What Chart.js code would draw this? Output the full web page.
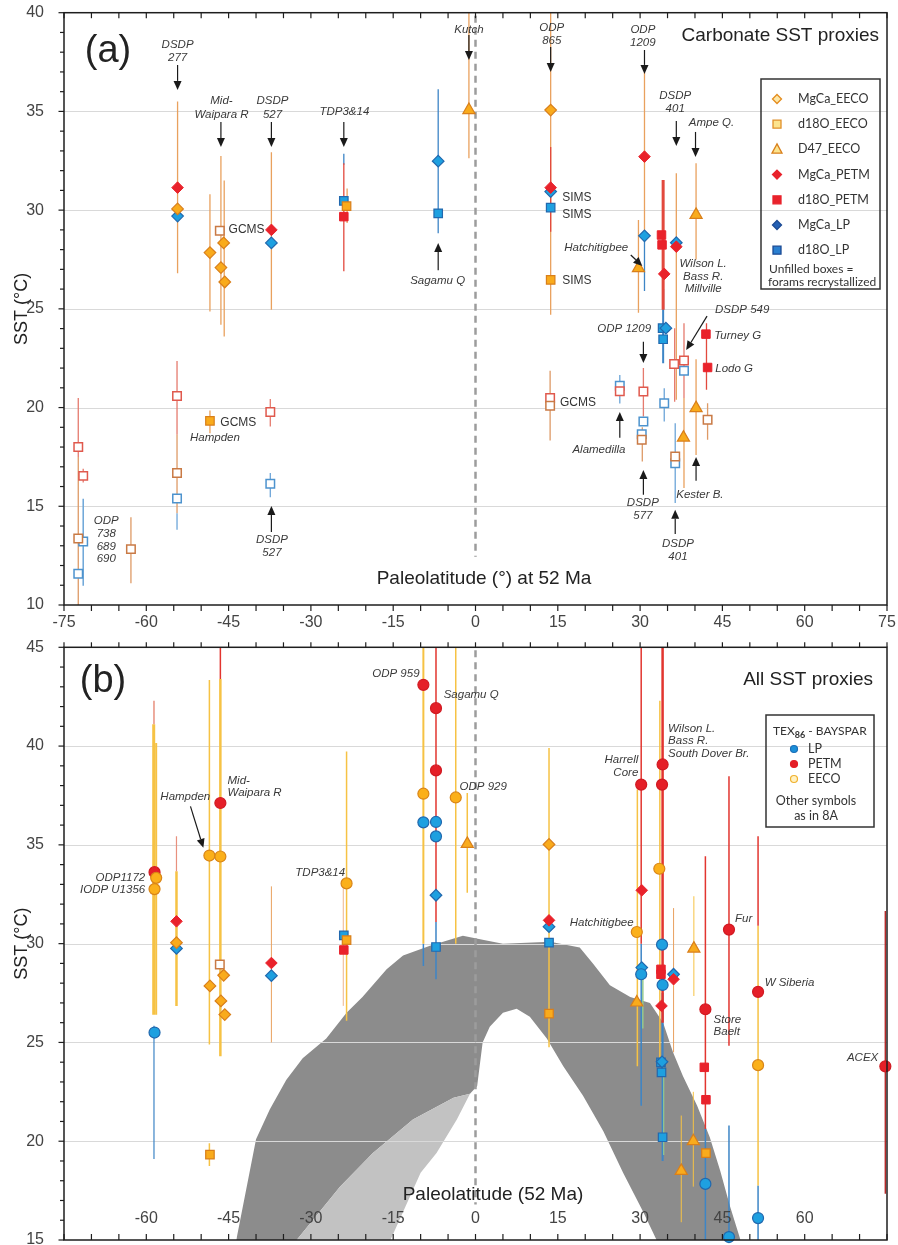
<!DOCTYPE html>
<html>
<head>
<meta charset="utf-8">
<script src="https://cdn.jsdelivr.net/npm/chart.js@4.4.1/dist/chart.umd.min.js"></script>
<style>
  html, body { margin: 0; padding: 0; background: #fff; }
  #wrap { position: relative; width: 898px; height: 1245px; overflow: hidden; }
  #ca { position: absolute; left: 0; top: -9px; }
  #cb { position: absolute; left: 0; top: 625px; }
</style>
</head>
<body>
<div id="wrap">
  <canvas id="ca" width="898" height="650"></canvas>
  <canvas id="cb" width="898" height="650"></canvas>
</div>
<script>
// ---------- axes ----------
const latTicks = [-75, -60, -45, -30, -15, 0, 15, 30, 45, 60, 75];
const latLabelsB = [-60, -45, -30, -15, 0, 15, 30, 45, 60];
const sstTicksA = [10, 15, 20, 25, 30, 35, 40];
const sstTicksB = [15, 20, 25, 30, 35, 40, 45];

// ---------- panel (a): carbonate SST proxies, [paleolatitude, SST] ----------
const mgcaEecoA = [[-54.3, 30.06], [-48.4, 27.85], [-45.9, 28.34], [-46.4, 27.09], [-45.7, 26.36], [13.7, 35.07]];
const d18oEecoA = [[-23.5, 30.2], [13.7, 26.47], [-48.4, 19.33]];
const d47EecoA = [[-1.2, 35.07], [29.7, 27.06], [40.2, 29.76], [37.9, 18.48], [40.2, 19.97]];
const mgcaPetmA = [[-54.3, 31.14], [-37.2, 29.0], [13.7, 31.14], [30.8, 32.71], [34.4, 26.77], [36.6, 28.15]];
const d18oPetmA = [[-24.0, 29.67], [33.9, 28.74], [34.0, 28.24], [42.0, 23.72], [42.3, 22.03]];
const mgcaLpA = [[-54.3, 29.7], [-37.2, 28.34], [-6.8, 32.48], [13.7, 30.94], [30.8, 28.7], [34.7, 24.02], [36.6, 28.35]];
const d18oLpA = [[-24.0, 30.47], [-6.8, 29.84], [13.7, 30.13], [34.1, 24.02], [34.2, 23.46]];
// unfilled boxes = forams recrystallized
const d18oEecoOpenA = [[-46.6, 28.96], [13.6, 20.09], [30.3, 18.37], [36.4, 17.52], [42.3, 19.38], [-72.4, 13.37], [-62.8, 12.83], [-54.4, 16.68]];
const d18oPetmOpenA = [[13.6, 20.48], [30.6, 20.81], [26.3, 20.83], [36.2, 22.21], [38.0, 22.38], [-37.4, 19.77], [-72.4, 18.0], [-71.5, 16.54], [-54.4, 20.58]];
const d18oLpOpenA = [[-37.4, 16.14], [30.6, 19.29], [30.3, 18.65], [26.3, 21.1], [34.4, 20.22], [36.4, 17.18], [38.0, 21.86], [-72.4, 11.58], [-71.5, 13.22], [-54.4, 15.39]];

// error bars: [paleolatitude, low, high, colour, width]
const barsA = [
  [-72.4, 17.5, 20.48, 'oRed', 1.3], [-72.4, 9.5, 17.5, 'oOrg', 1.3], [-71.5, 16.2, 16.9, 'oRed', 1.3],
  [-71.5, 10.97, 15.38, 'oBlue', 1.5], [-62.8, 11.1, 14.45, 'oOrg', 1.3],
  [-54.4, 18.62, 22.36, 'oRed', 1.3], [-54.4, 14.65, 18.62, 'oOrg', 1.3], [-54.4, 13.81, 14.65, 'oBlue', 1.3],
  [-54.3, 26.8, 35.5, 'eeco', 1.3], [-48.4, 24.86, 30.8, 'eeco', 1.3], [-48.4, 18.7, 19.85, 'eeco', 1.3],
  [-46.4, 24.2, 32.74, 'eeco', 1.3], [-45.8, 23.6, 31.5, 'eeco', 1.3], [-37.2, 24.95, 32.93, 'eeco', 1.3],
  [-37.4, 19.04, 20.43, 'oRed', 1.3], [-37.4, 15.46, 16.68, 'oBlue', 1.3],
  [-24.0, 32.3, 32.85, 'lp', 1.3], [-24.0, 26.9, 32.37, 'petm', 1.3], [-23.4, 29.35, 31.1, 'eeco', 1.3],
  [-6.8, 28.83, 36.12, 'lp', 1.3], [-1.2, 32.63, 40.5, 'eeco', 1.3],
  [13.7, 24.7, 40.5, 'eeco', 1.3], [13.7, 28.9, 33.2, 'petm', 1.3], [13.6, 18.33, 21.87, 'oOrg', 1.3],
  [26.3, 20.2, 21.65, 'oBlue', 1.3], [29.7, 24.8, 29.5, 'eeco', 1.3],
  [30.8, 28.7, 37.0, 'eeco', 1.3], [30.8, 25.9, 28.7, 'lp', 1.3],
  [30.6, 19.55, 22.0, 'oRed', 1.3], [30.4, 17.27, 19.0, 'oOrg', 1.3],
  [34.2, 22.25, 26.0, 'lp', 2], [34.2, 24.95, 31.53, 'petm', 3], [34.4, 19.29, 20.98, 'oBlue', 1.3],
  [36.6, 20.4, 31.87, 'eeco', 1.3], [36.3, 20.3, 24.02, 'oRed', 1.3], [36.4, 15.16, 19.21, 'oBlue', 1.3],
  [38.0, 20.48, 24.27, 'oRed', 1.3], [38.0, 15.92, 20.48, 'eeco', 1.3],
  [40.2, 27.5, 32.37, 'eeco', 1.3], [40.2, 17.6, 22.45, 'eeco', 1.3],
  [42.1, 20.9, 24.27, 'petm', 1.3], [42.3, 18.37, 20.22, 'oOrg', 1.3]
];

// ---------- panel (b): all SST proxies ----------
const texLpB = [[-58.5, 25.5], [-9.5, 36.14], [-7.2, 36.16], [-7.2, 35.43], [34.0, 29.95], [30.2, 28.45], [34.1, 27.91], [41.9, 17.84], [46.2, 15.15], [51.5, 16.11]];
const texPetmB = [[-58.5, 33.62], [-46.5, 37.12], [-9.5, 43.1], [-7.2, 41.92], [-7.2, 38.77], [30.2, 38.05], [34.1, 39.07], [34.0, 38.05], [46.2, 30.71], [51.5, 27.56], [41.9, 26.68], [74.7, 23.79]];
const texEecoB = [[-58.2, 33.33], [-58.5, 32.76], [-48.5, 34.46], [-46.5, 34.41], [-23.5, 33.05], [-9.5, 37.59], [-3.6, 37.4], [33.5, 33.79], [29.4, 30.59], [51.5, 23.85]];
const mgcaEecoB = [[-54.5, 30.05], [-48.4, 27.86], [-45.9, 28.4], [-46.4, 27.1], [-45.7, 26.41], [13.4, 35.02]];
const d18oEecoB = [[-23.5, 30.18], [13.4, 26.46], [-48.4, 19.32], [42.0, 19.4]];
const d18oEecoOpenB = [[-46.6, 28.94]];
const d47EecoB = [[-1.5, 35.05], [29.4, 27.02], [39.8, 29.75], [39.7, 20.0], [37.5, 18.5]];
const mgcaPetmB = [[-54.5, 31.13], [-37.2, 29.02], [13.4, 31.18], [30.3, 32.7], [33.9, 26.85], [36.1, 28.2]];
const d18oPetmB = [[-24.0, 29.68], [33.8, 28.7], [33.8, 28.45], [41.7, 23.74], [42.0, 22.1]];
const mgcaLpB = [[-54.5, 29.76], [-37.2, 28.38], [-7.2, 32.45], [13.4, 30.86], [30.3, 28.79], [36.1, 28.45], [34.0, 24.02]];
const d18oLpB = [[-24.0, 30.42], [-7.2, 29.83], [13.4, 30.05], [33.8, 23.99], [33.9, 23.48], [34.1, 20.2]];

// model SST envelope (grey band): upper edge, solid lower edge, and outer edge of the sparse (speckled) zone
const bandTopB = [[-43.6, 15], [-40, 20.1], [-37.5, 21.6], [-34.5, 23.1], [-31.5, 24.2], [-27.2, 25.2], [-23.5, 26.5],
  [-20.6, 27.3], [-16.2, 28.7], [-13.2, 29.4], [-8.3, 29.9], [-2.3, 30.4], [1.3, 30.2], [5, 30.0], [13.6, 30.1],
  [19, 29.8], [21.4, 29.0], [24.5, 27.9], [28.2, 27.3], [31.8, 27.0], [34.2, 26.0], [36, 24.5], [37.8, 23.3],
  [40.4, 21.8], [42.7, 20.2], [44.6, 18.5], [46.4, 16.7], [48.3, 15]];
const bandBottomB = [[-43.6, 15], [-32.6, 15], [-24.7, 17.7], [-18.7, 19.4], [-11.4, 21.1], [-4, 22.2], [-1, 22.4],
  [0.3, 22.8], [1.3, 25.0], [2.6, 25.8], [5, 26.5], [7.5, 26.7], [9.9, 26.3], [13, 25.2], [16, 23.8], [19.6, 22.3],
  [23.3, 20.5], [26.9, 18.4], [30.6, 16.4], [33, 15], [48.3, 15]];
const bandSparseB = [[-32.6, 15], [-15.5, 15], [-10, 18.4], [-7.1, 19.4], [-3.4, 21.1], [-1, 22.4]];

const barsB = [
  [-58.6, 19.1, 25.84, 'lp', 1.2], [-58.65, 26.4, 41.1, 'tEeco', 3], [-58.6, 41.1, 42.3, 'fRed', 1.5],
  [-58.2, 26.4, 40.15, 'tEeco', 2], [-54.5, 26.85, 33.67, 'tEeco', 2.5], [-54.5, 33.67, 35.43, 'fRed', 1.2],
  [-48.5, 24.9, 43.35, 'tEeco', 1.5], [-48.5, 18.75, 19.9, 'tEeco', 1.5],
  [-46.5, 24.3, 43.4, 'tEeco', 2.5], [-46.5, 43.4, 45.5, 'tPetm', 1.5],
  [-37.2, 25.0, 32.9, 'eeco', 1], [-24.1, 26.85, 32.9, 'faint', 1], [-23.5, 26.1, 39.73, 'tEeco', 1.5],
  [-9.5, 28.87, 30.0, 'lp', 1.5], [-9.5, 30.0, 45.5, 'tEeco', 2],
  [-7.2, 28.2, 31.1, 'lp', 1.5], [-7.2, 31.1, 45.5, 'tPetm', 1.5],
  [-3.6, 30.0, 45.5, 'tEeco', 1.5], [-1.5, 32.58, 37.63, 'tEeco', 1.5], [13.4, 24.76, 39.9, 'tEeco', 1.5],
  [29.5, 23.8, 37.8, 'tEeco', 1.5], [30.2, 21.8, 30.0, 'lp', 1.5], [30.2, 30.0, 45.5, 'tPetm', 1.5],
  [30.5, 25.7, 28.2, 'green', 1.5],
  [33.6, 24.0, 42.3, 'tEeco', 1.5], [34.1, 19.0, 27.5, 'lp', 2], [34.1, 26.0, 45.5, 'tPetm', 2.5],
  [34.3, 19.3, 24.0, 'green', 1.2],
  [36.1, 24.5, 31.8, 'eeco', 1], [37.5, 15.9, 21.3, 'tEeco', 1], [39.7, 17.7, 22.5, 'tEeco', 1],
  [39.8, 27.35, 32.4, 'tEeco', 1],
  [41.9, 14.5, 20.62, 'lp', 1.5], [41.9, 20.62, 34.43, 'tPetm', 1.5],
  [46.2, 14.5, 20.79, 'lp', 1.5], [46.2, 24.83, 38.47, 'tPetm', 1.5],
  [51.5, 14.5, 17.76, 'lp', 1.5], [51.5, 17.76, 30.9, 'tEeco', 1.5], [51.5, 30.9, 35.43, 'tPetm', 1.5],
  [74.7, 17.34, 31.65, 'dRed', 1.5]
];

// ---------- site labels [lat, SST, text, align, style] ----------
const labelsA = [
  [-54.3, 38.36, 'DSDP', 'c', 'i'], [-54.3, 37.71, '277', 'c', 'i'],
  [-46.3, 35.53, 'Mid-', 'c', 'i'], [-46.3, 34.82, 'Waipara R', 'c', 'i'],
  [-37.0, 35.53, 'DSDP', 'c', 'i'], [-37.0, 34.82, '527', 'c', 'i'],
  [-23.9, 34.97, 'TDP3&14', 'c', 'i'], [-6.9, 26.41, 'Sagamu Q', 'c', 'i'],
  [-1.2, 39.12, 'Kutch', 'c', 'i'],
  [13.9, 39.23, 'ODP', 'c', 'i'], [13.9, 38.57, '865', 'c', 'i'],
  [30.5, 39.12, 'ODP', 'c', 'i'], [30.5, 38.47, '1209', 'c', 'i'],
  [36.4, 35.78, 'DSDP', 'c', 'i'], [36.4, 35.12, '401', 'c', 'i'],
  [43.0, 34.42, 'Ampe Q.', 'c', 'i'],
  [15.8, 30.62, 'SIMS', 'l', 'n'], [15.8, 29.76, 'SIMS', 'l', 'n'], [15.8, 26.41, 'SIMS', 'l', 'n'],
  [-45.0, 29.0, 'GCMS', 'l', 'n'], [15.4, 20.24, 'GCMS', 'l', 'n'], [-46.5, 19.23, 'GCMS', 'l', 'n'],
  [-47.5, 18.47, 'Hampden', 'c', 'i'], [22.0, 28.09, 'Hatchitigbee', 'c', 'i'],
  [41.5, 27.27, 'Wilson L.', 'c', 'i'], [41.5, 26.61, 'Bass R.', 'c', 'i'], [41.5, 26.0, 'Millville', 'c', 'i'],
  [48.6, 24.95, 'DSDP 549', 'c', 'i'], [27.1, 23.98, 'ODP 1209', 'c', 'i'],
  [43.5, 23.63, 'Turney G', 'l', 'i'], [43.7, 21.98, 'Lodo G', 'l', 'i'],
  [22.5, 17.86, 'Alamedilla', 'c', 'i'],
  [30.5, 15.17, 'DSDP', 'c', 'i'], [30.5, 14.52, '577', 'c', 'i'],
  [40.9, 15.58, 'Kester B.', 'c', 'i'],
  [36.9, 13.1, 'DSDP', 'c', 'i'], [36.9, 12.43, '401', 'c', 'i'],
  [-67.3, 14.27, 'ODP', 'c', 'i'], [-67.3, 13.6, '738', 'c', 'i'], [-67.3, 12.95, '689', 'c', 'i'], [-67.3, 12.34, '690', 'c', 'i'],
  [-37.1, 13.3, 'DSDP', 'c', 'i'], [-37.1, 12.64, '527', 'c', 'i']
];
const arrowsA = [
  [-54.3, 37.35, -54.3, 36.09], [-46.4, 34.47, -46.4, 33.2], [-37.2, 34.47, -37.2, 33.2], [-24.0, 34.47, -24.0, 33.2],
  [-6.8, 26.96, -6.8, 28.33], [-1.2, 38.87, -1.2, 37.6], [13.7, 38.26, 13.7, 37.0], [30.8, 38.11, 30.8, 36.9],
  [36.6, 34.52, 36.6, 33.25], [40.1, 33.96, 40.1, 32.69], [28.3, 27.73, 30.4, 27.17], [42.2, 24.63, 38.4, 22.91],
  [30.6, 23.33, 30.6, 22.26], [26.3, 18.47, 26.3, 19.78], [30.6, 15.58, 30.6, 16.84], [40.2, 16.29, 40.2, 17.5],
  [36.4, 13.6, 36.4, 14.82], [-37.2, 13.7, -37.2, 15.02]
];
const labelsB = [
  [-10.2, 43.65, 'ODP 959', 'r', 'i'], [-5.8, 42.59, 'Sagamu Q', 'l', 'i'], [-2.9, 37.94, 'ODP 929', 'l', 'i'],
  [-45.2, 38.25, 'Mid-', 'l', 'i'], [-45.2, 37.64, 'Waipara R', 'l', 'i'], [-52.9, 37.44, 'Hampden', 'c', 'i'],
  [-60.2, 33.35, 'ODP1172', 'r', 'i'], [-60.2, 32.72, 'IODP U1356', 'r', 'i'], [-28.3, 33.6, 'TDP3&14', 'c', 'i'],
  [26.6, 39.31, 'Harrell', 'c', 'i'], [27.4, 38.65, 'Core', 'c', 'i'],
  [35.1, 40.87, 'Wilson L.', 'l', 'i'], [35.1, 40.25, 'Bass R.', 'l', 'i'], [35.1, 39.61, 'South Dover Br.', 'l', 'i'],
  [23.0, 31.08, 'Hatchitigbee', 'c', 'i'], [47.3, 31.28, 'Fur', 'l', 'i'], [52.7, 28.0, 'W Siberia', 'l', 'i'],
  [43.4, 26.13, 'Store', 'l', 'i'], [43.4, 25.52, 'Baelt', 'l', 'i'], [73.4, 24.21, 'ACEX', 'r', 'i']
];
const arrowsB = [[-51.95, 36.95, -49.6, 34.85]];

// ---------- styling ----------
const SANS = '"Liberation Sans", Arial, Helvetica, sans-serif';
const LEG = 'Lato, "Open Sans", sans-serif';
const C = {
  eFill: '#F9AB1C', eLine: '#D97F1A', pFill: '#E9222B', lFill: '#1EA0E0', lLine: '#2168AE',
  oRed: '#E0594D', oOrg: '#C97A45', oBlue: '#4D93CE'
};
const barColors = {
  eeco: '#E9A15E', petm: '#E2493E', lp: '#3D85C6', oRed: '#E57A6E', oBlue: '#6CA5D8', oOrg: '#DE9A66',
  tEeco: '#F6C244', tPetm: '#E2352F', dRed: '#B52A2A', fRed: '#E8907E', faint: '#EDB58C', green: '#94C98E'
};

function pts(arr) { return arr.map(p => ({ x: p[0], y: p[1] })); }
function marks(data, shape, r, fill, stroke, bw, order) {
  return {
    data: pts(data), pointStyle: shape, pointRadius: r, pointHoverRadius: r,
    pointBackgroundColor: fill, pointBorderColor: stroke, pointBorderWidth: bw,
    order: order, clip: false
  };
}
function bandLine(data, fill, color, order) {
  return { data: pts(data), showLine: true, pointRadius: 0, borderWidth: 0, borderColor: 'rgba(0,0,0,0)',
    backgroundColor: color, fill: fill, tension: 0, order: order, band: true };
}

function drawMark(ctx, shape, x, y, r, fill, stroke, lw) {
  ctx.save();
  ctx.beginPath();
  if (shape === 'diamond') {
    ctx.moveTo(x, y - r); ctx.lineTo(x + r, y); ctx.lineTo(x, y + r); ctx.lineTo(x - r, y); ctx.closePath();
  } else if (shape === 'square') {
    ctx.rect(x - r, y - r, 2 * r, 2 * r);
  } else if (shape === 'triangle') {
    ctx.moveTo(x, y - r * 1.1); ctx.lineTo(x + r, y + r * 0.75); ctx.lineTo(x - r, y + r * 0.75); ctx.closePath();
  } else {
    ctx.arc(x, y, r, 0, Math.PI * 2);
  }
  ctx.fillStyle = fill; ctx.fill();
  ctx.lineWidth = lw; ctx.strokeStyle = stroke; ctx.stroke();
  ctx.restore();
}

function seg(ctx, x1, y1, x2, y2) { ctx.beginPath(); ctx.moveTo(x1, y1); ctx.lineTo(x2, y2); ctx.stroke(); }

function drawLayer(chart, P) {
  const { ctx, chartArea: a, scales: { x, y } } = chart;
  ctx.save();
  ctx.beginPath(); ctx.rect(a.left, a.top, a.right - a.left, a.bottom - a.top); ctx.clip();
  ctx.strokeStyle = '#D9D9D9'; ctx.lineWidth = 1;
  P.grid.forEach(v => { const py = Math.round(y.getPixelForValue(v)) + 0.5; seg(ctx, a.left, py, a.right, py); });
  ctx.setLineDash([7, 5]); ctx.strokeStyle = '#9C9C9C'; ctx.lineWidth = 2.5;
  const zx = x.getPixelForValue(0);
  seg(ctx, zx, a.top + 3, zx, y.getPixelForValue(P.zeroEnd));
  ctx.setLineDash([]);
  P.bars.forEach(b => {
    ctx.strokeStyle = barColors[b[3]]; ctx.lineWidth = b[4];
    const bx = x.getPixelForValue(b[0]);
    seg(ctx, bx, y.getPixelForValue(b[1]), bx, y.getPixelForValue(b[2]));
  });
  ctx.restore();
}

function drawFrame(chart, P) {
  const { ctx, chartArea: a, scales: { x, y } } = chart;
  ctx.save();
  ctx.strokeStyle = '#1E1E1E'; ctx.lineWidth = 1.5;
  ctx.strokeRect(a.left, a.top, a.right - a.left, a.bottom - a.top);
  ctx.lineWidth = 1.2;
  for (let v = x.min; v <= x.max; v += 5) {
    const px = x.getPixelForValue(v);
    if (P.topIn) seg(ctx, px, a.top, px, a.top + 5.5); else seg(ctx, px, a.top, px, a.top - 5);
    if (P.bottomIn) seg(ctx, px, a.bottom, px, a.bottom - 6); else seg(ctx, px, a.bottom, px, a.bottom + 6);
  }
  for (let v = y.min; v <= y.max; v += 1) {
    const py = y.getPixelForValue(v);
    seg(ctx, a.left - (v % 5 === 0 ? 5.5 : 4), py, a.left, py);
  }
  ctx.restore();
}

function drawLabels(chart, labels, arrows) {
  const { ctx, scales: { x, y } } = chart;
  ctx.save();
  ctx.textBaseline = 'middle';
  labels.forEach(l => {
    ctx.font = l[4] === 'i' ? 'italic 11.5px ' + SANS : '12px ' + SANS;
    ctx.fillStyle = l[4] === 'i' ? '#3A3A3A' : '#333';
    ctx.textAlign = l[3] === 'l' ? 'left' : (l[3] === 'r' ? 'right' : 'center');
    ctx.fillText(l[2], x.getPixelForValue(l[0]), y.getPixelForValue(l[1]));
  });
  ctx.strokeStyle = '#1A1A1A'; ctx.fillStyle = '#1A1A1A'; ctx.lineWidth = 1.2;
  arrows.forEach(r => {
    const x1 = x.getPixelForValue(r[0]), y1 = y.getPixelForValue(r[1]);
    const x2 = x.getPixelForValue(r[2]), y2 = y.getPixelForValue(r[3]);
    const ang = Math.atan2(y2 - y1, x2 - x1);
    const hl = 9, hw = 4;
    const bx = x2 - Math.cos(ang) * hl, by = y2 - Math.sin(ang) * hl;
    seg(ctx, x1, y1, bx, by);
    ctx.beginPath();
    ctx.moveTo(x2, y2);
    ctx.lineTo(bx + Math.sin(ang) * hw, by - Math.cos(ang) * hw);
    ctx.lineTo(bx - Math.sin(ang) * hw, by + Math.cos(ang) * hw);
    ctx.closePath(); ctx.fill();
  });
  ctx.restore();
}

function text(ctx, s, x, y, font, align, color) {
  ctx.font = font; ctx.textAlign = align; ctx.textBaseline = 'middle'; ctx.fillStyle = color || '#222';
  ctx.fillText(s, x, y);
}

function panelPlugin(P) {
  return {
    id: 'panel' + P.name,
    beforeDatasetsDraw(chart) { chart.$layerDone = false; },
    beforeDatasetDraw(chart, args) {
      if (!chart.$layerDone && !chart.data.datasets[args.index].band) { drawLayer(chart, P); chart.$layerDone = true; }
    },
    afterDatasetsDraw(chart) { if (!chart.$layerDone) { drawLayer(chart, P); chart.$layerDone = true; } },
    afterDraw(chart) {
      drawFrame(chart, P);
      drawLabels(chart, P.labels, P.arrows);
      chart.ctx.save();
      chart.ctx.translate(0, -P.pageTop); // page coordinates for titles and legend
      P.extra(chart.ctx);
      chart.ctx.restore();
    }
  };
}

function baseOptions(P) {
  return {
    responsive: false, animation: false, devicePixelRatio: 1, events: [],
    layout: { padding: P.padding },
    plugins: { legend: { display: false }, tooltip: { enabled: false } },
    scales: {
      x: {
        type: 'linear', min: -75, max: 75, display: P.showX,
        grid: { display: false }, border: { display: false },
        afterBuildTicks: s => { s.ticks = latTicks.map(v => ({ value: v })); },
        ticks: { padding: 0, color: '#444', font: { family: SANS, size: 16 } },
        afterFit: s => { s.height = P.xHeight; }
      },
      y: {
        type: 'linear', min: P.ymin, max: P.ymax,
        grid: { display: false }, border: { display: false },
        afterBuildTicks: s => { s.ticks = P.yTicks.map(v => ({ value: v })); },
        ticks: { padding: 12, color: '#444', font: { family: SANS, size: 16 } },
        title: { display: true, text: 'SST (°C)', color: '#222', font: { family: SANS, size: 18 }, padding: { top: 11, bottom: 0 } },
        afterFit: s => { s.width = 64; }
      }
    }
  };
}

// ---------- panel (a) ----------
const PA = {
  name: 'A', pageTop: -9, padding: { top: 21.7, right: 11, bottom: 0, left: 0 }, showX: true, xHeight: 36,
  ymin: 10, ymax: 40, yTicks: sstTicksA, grid: [15, 20, 25, 30, 35], zeroEnd: 12.45,
  topIn: true, bottomIn: false, bars: barsA, labels: labelsA, arrows: arrowsA,
  extra(ctx) {
    text(ctx, '(a)', 108, 52, '38px ' + SANS, 'center', '#222');
    text(ctx, 'Carbonate SST proxies', 879, 36, '19px ' + SANS, 'right', '#222');
    text(ctx, 'Paleolatitude (°) at 52 Ma', 484, 579, '19px ' + SANS, 'center', '#222');
    ctx.strokeStyle = '#333'; ctx.lineWidth = 1.5; ctx.strokeRect(761, 79, 119, 210);
    const rows = [
      ['MgCa_EECO', 'diamond', 4.5, '#FDE7A6', '#E48C1E'],
      ['d18O_EECO', 'square', 4, '#FCE48E', '#E0902A'],
      ['D47_EECO', 'triangle', 5, '#FCE48E', '#D9801C'],
      ['MgCa_PETM', 'diamond', 4.5, C.pFill, C.pFill],
      ['d18O_PETM', 'square', 4, C.pFill, C.pFill],
      ['MgCa_LP', 'diamond', 4.5, '#2460B4', '#1B4A94'],
      ['d18O_LP', 'square', 4, '#2A7FD0', '#1B4A94']
    ];
    rows.forEach((r, i) => {
      const yy = 99 + i * 25.2;
      drawMark(ctx, r[1], 777, yy, r[2], r[3], r[4], 1.3);
      text(ctx, r[0], 798, yy, '12.5px ' + LEG, 'left', '#333');
    });
    text(ctx, 'Unfilled boxes =', 769, 269, '12px ' + LEG, 'left', '#333');
    text(ctx, 'forams recrystallized', 768, 282, '12px ' + LEG, 'left', '#333');
  }
};

const dsA = [
  marks(mgcaPetmA, 'rectRot', 5.8, C.pFill, C.pFill, 1, 1),
  marks(d18oPetmA, 'rect', 6, C.pFill, C.pFill, 1, 1),
  marks(mgcaEecoA, 'rectRot', 5.8, C.eFill, C.eLine, 1.2, 2),
  marks(d18oEecoA, 'rect', 6, C.eFill, C.eLine, 1.2, 2),
  marks(d47EecoA, 'triangle', 7, C.eFill, C.eLine, 1.2, 2),
  marks(mgcaLpA, 'rectRot', 5.8, C.lFill, C.lLine, 1.2, 3),
  marks(d18oLpA, 'rect', 6, C.lFill, C.lLine, 1.2, 3),
  marks(d18oEecoOpenA, 'rect', 6, '#fff', C.oOrg, 1.5, 4),
  marks(d18oPetmOpenA, 'rect', 6, '#fff', C.oRed, 1.5, 4),
  marks(d18oLpOpenA, 'rect', 6, '#fff', C.oBlue, 1.5, 4)
];

new Chart(document.getElementById('ca'), {
  type: 'scatter',
  data: { datasets: dsA },
  options: baseOptions(PA),
  plugins: [panelPlugin(PA)]
});

// ---------- panel (b) ----------
const PB = {
  name: 'B', pageTop: 625, padding: { top: 22.3, right: 11, bottom: 35, left: 0 }, showX: false, xHeight: 0,
  ymin: 15, ymax: 45, yTicks: sstTicksB, grid: [20, 25, 30, 35, 40], zeroEnd: 16.8,
  topIn: false, bottomIn: true, bars: barsB, labels: labelsB, arrows: arrowsB,
  extra(ctx) {
    text(ctx, '(b)', 103, 682, '38px ' + SANS, 'center', '#222');
    text(ctx, 'All SST proxies', 873, 680, '19px ' + SANS, 'right', '#222');
    text(ctx, 'Paleolatitude (52 Ma)', 493, 1195, '19px ' + SANS, 'center', '#222');
    ctx.strokeStyle = '#333'; ctx.lineWidth = 1.5; ctx.strokeRect(766, 715, 108, 112);
    text(ctx, 'TEX', 773, 731, '12px ' + LEG, 'left', '#333');
    let w = ctx.measureText('TEX').width;
    text(ctx, '86', 773 + w, 735, 'bold 9px ' + LEG, 'left', '#333');
    w += ctx.measureText('86').width;
    text(ctx, ' - BAYSPAR', 773 + w, 731, '12px ' + LEG, 'left', '#333');
    const rows = [['LP', '#1B8FD8', '#1B6FB8'], ['PETM', '#E41E26', '#E41E26'], ['EECO', '#FFF1C2', '#F0B12E']];
    rows.forEach((r, i) => {
      const yy = 749 + i * 15;
      drawMark(ctx, 'circle', 794, yy, 3.5, r[1], r[2], 1.2);
      text(ctx, r[0], 808, yy, '12.5px ' + LEG, 'left', '#333');
    });
    text(ctx, 'Other symbols', 816, 801, '12.5px ' + LEG, 'center', '#333');
    text(ctx, 'as in 8A', 816, 816, '12.5px ' + LEG, 'center', '#333');
  }
};

const dsB = [
  bandLine(bandTopB, '+1', '#8C8C8C', 100),
  bandLine(bandBottomB, false, 'rgba(0,0,0,0)', 101),
  bandLine(bandBottomB.slice(1, 7), '+1', '#C2C2C2', 98),
  bandLine(bandSparseB, false, 'rgba(0,0,0,0)', 99),
  marks(texEecoB, 'circle', 5.5, '#FBB01A', '#D98518', 1.2, 0),
  marks(texPetmB, 'circle', 5.5, '#E51F28', '#D11A22', 1.2, 1),
  marks(texLpB, 'circle', 5.5, '#1EA0E0', '#2168AE', 1.2, 2),
  marks(mgcaPetmB, 'rectRot', 5.8, C.pFill, C.pFill, 1, 3),
  marks(d18oPetmB, 'rect', 6, C.pFill, C.pFill, 1, 3),
  marks(mgcaEecoB, 'rectRot', 5.8, C.eFill, C.eLine, 1.2, 4),
  marks(d18oEecoB, 'rect', 6, C.eFill, C.eLine, 1.2, 4),
  marks(d47EecoB, 'triangle', 7, C.eFill, C.eLine, 1.2, 4),
  marks(mgcaLpB, 'rectRot', 5.8, C.lFill, C.lLine, 1.2, 5),
  marks(d18oLpB, 'rect', 6, C.lFill, C.lLine, 1.2, 5),
  marks(d18oEecoOpenB, 'rect', 6, '#fff', C.oOrg, 1.5, 6)
];

new Chart(document.getElementById('cb'), {
  type: 'scatter',
  data: { datasets: dsB },
  options: baseOptions(PB),
  plugins: [panelPlugin(PB), {
    id: 'latLabelsB',
    afterDraw(chart) {
      const { ctx, scales: { x, y } } = chart;
      ctx.save();
      latLabelsB.forEach(v => text(ctx, String(v), x.getPixelForValue(v), y.getPixelForValue(16.06), '16px ' + SANS, 'center', '#444'));
      ctx.restore();
    }
  }]
});
</script>
</body>
</html>
